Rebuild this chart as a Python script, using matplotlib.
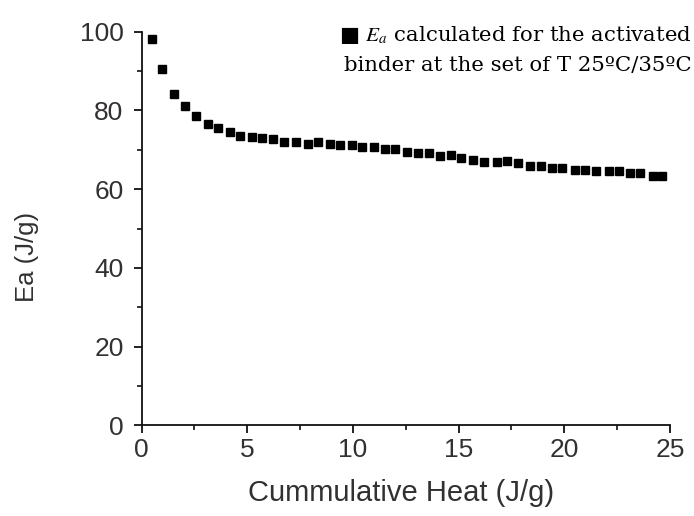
import matplotlib
matplotlib.use("Agg")
import matplotlib.pyplot as plt
from matplotlib.ticker import MultipleLocator

# Okunan veri noktalari (Cummulative Heat, Ea)
heat = [0.51, 0.98, 1.55, 2.07, 2.58, 3.16, 3.63, 4.20, 4.67, 5.21, 5.68, 6.20,
        6.74, 7.30, 7.86, 8.36, 8.91, 9.39, 9.94, 10.44, 11.0, 11.5, 12.0,
        12.55, 13.1, 13.6, 14.1, 14.65, 15.1, 15.7, 16.2, 16.8, 17.3, 17.8,
        18.4, 18.9, 19.4, 19.9, 20.5, 21.0, 21.5, 22.1, 22.6, 23.1, 23.6,
        24.2, 24.6]
ea = [98.1, 90.5, 84.3, 81.2, 78.7, 76.6, 75.6, 74.6, 73.6, 73.3, 73.1, 72.8,
      72.1, 72.1, 71.5, 72.1, 71.5, 71.1, 71.1, 70.6, 70.6, 70.1, 70.1,
      69.5, 69.1, 69.1, 68.5, 68.7, 67.9, 67.4, 67.0, 67.0, 67.2, 66.6,
      66.0, 66.0, 65.5, 65.5, 64.9, 64.9, 64.5, 64.5, 64.5, 64.0, 64.0,
      63.4, 63.4]

x_ticks = [0, 5, 10, 15, 20, 25]
y_ticks = [0, 20, 40, 60, 80, 100]

txt_color = "#333030"
plt.rcParams["font.family"] = ["Liberation Sans", "DejaVu Sans"]
plt.rcParams["mathtext.fontset"] = "stix"

fig = plt.figure(figsize=(6.94, 5.16), dpi=100)
ax = fig.add_axes([0.204, 0.1754, 0.7614, 0.7632])

# Veri noktalarini kare isaretle cizer
ax.plot(heat, ea, linestyle="none", marker="s", markersize=6.2,
        color="black", clip_on=False)

ax.set_xlim(0, 25)
ax.set_ylim(0, 100)
ax.set_xticks(x_ticks)
ax.set_yticks(y_ticks)
ax.xaxis.set_minor_locator(MultipleLocator(2.5))
ax.yaxis.set_minor_locator(MultipleLocator(10))

for side in ["top", "right"]:
    ax.spines[side].set_visible(False)
for side in ["left", "bottom"]:
    ax.spines[side].set_linewidth(1.3)
    ax.spines[side].set_color("#111111")

ax.tick_params(which="major", direction="out", length=6, width=1.3,
               labelsize=19, labelcolor=txt_color, color="#111111")
ax.tick_params(which="minor", direction="out", length=3.5, width=1.2,
               color="#111111")
ax.tick_params(axis="y", which="major", pad=7)
ax.tick_params(axis="x", which="major", pad=3)

# Eksen etiketleri
ax.set_xlabel("Cummulative Heat (J/g)", fontsize=21, color=txt_color)
ax.set_ylabel("Ea (J/g)", fontsize=18.5, color=txt_color)
ax.xaxis.set_label_coords(0.492, -0.135)
ax.yaxis.set_label_coords(-0.195, 0.428)

# Gosterge metni (sag ust)
fig.text(0.997, 0.953,
         "\u25a0 $E_a$ calculated for the activated\nbinder at the set of T 25\u00baC/35\u00baC",
         ha="right", va="top", ma="right", fontsize=15.3, color="black",
         family=["DejaVu Serif"], linespacing=1.65)

plt.savefig("out.png", dpi=100)
plt.close()
